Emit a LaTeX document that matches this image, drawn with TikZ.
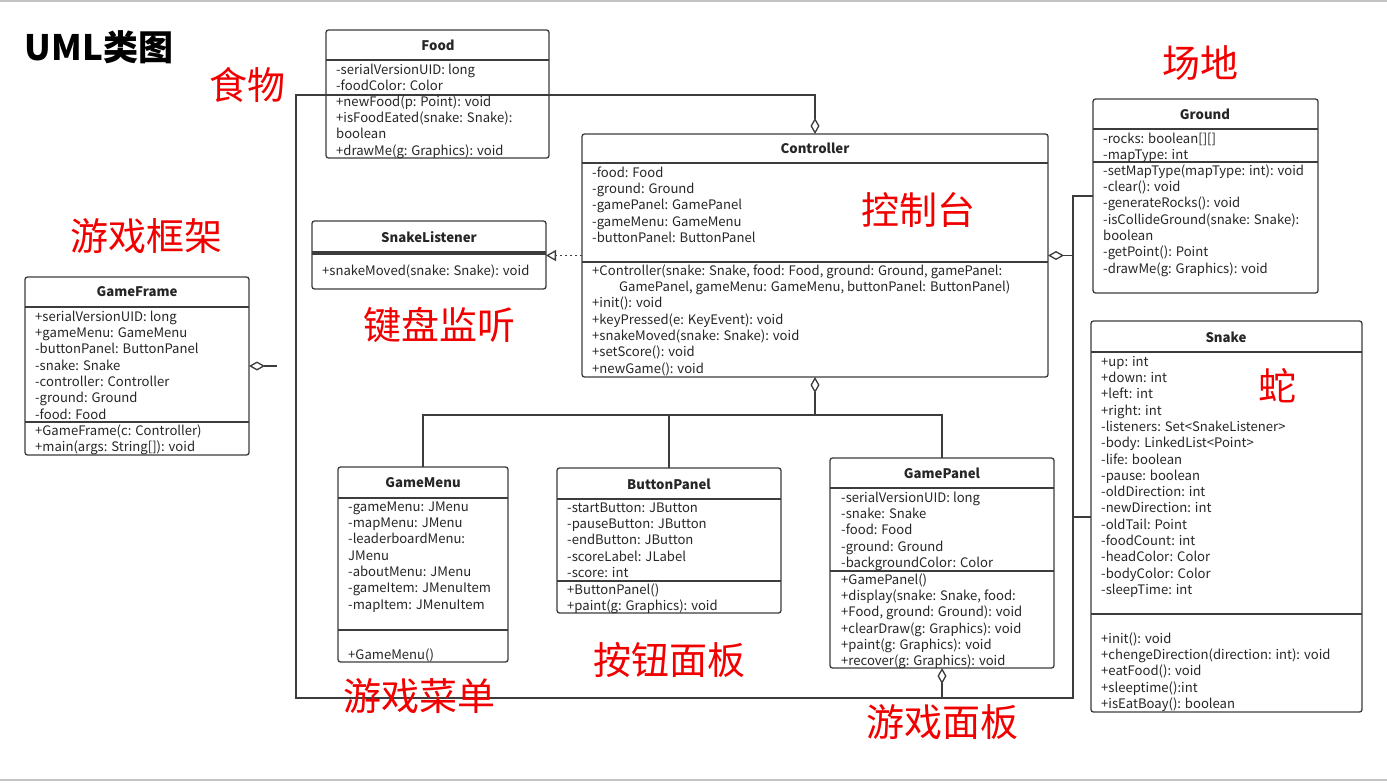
\documentclass[tikz,border=0pt]{standalone}
\usepackage{fontspec}
\setmainfont{Noto Sans CJK SC}
\usetikzlibrary{arrows.meta}
\definecolor{ln}{HTML}{3C3C3C}
\definecolor{tx}{HTML}{262626}
\definecolor{rd}{HTML}{F20000}
\definecolor{edge}{HTML}{C4C4C4}
\tikzset{
  cls/.style={draw=ln, line width=1.3pt, rounded corners=2.5pt, fill=white, anchor=north west, inner sep=0pt, outer sep=0pt},
  sepl/.style={draw=ln, line width=1.3pt},
  body/.style={anchor=north west, inner sep=0pt, align=left, text=tx, font=\fontsize{13.1}{16.3}\selectfont},
  hd/.style={inner sep=0pt, text=tx, font=\fontsize{13.2}{15}\selectfont\bfseries},
  red/.style={inner sep=0pt, text=rd, font=\fontsize{38}{40}\selectfont},
  conn/.style={draw=ln, line width=1.3pt},
  agg/.style={conn, {Diamond[fill=white, length=16pt, width=9pt]}-},
  real/.style={conn, dash pattern=on 2.5pt off 2.5pt, -{Triangle[open, length=10pt, width=11pt]}}
}
\begin{document}
\begin{tikzpicture}[x=1pt, y=-1pt]
\useasboundingbox (0,0) rectangle (1387,782);
\fill[white] (0,0) rectangle (1387,782);
\draw[edge, line width=2pt] (0,1) -- (1387,1);
\draw[edge, line width=2pt] (0,780) -- (1387,780);

% junction coordinates
\coordinate (tl) at (296,95);
\coordinate (bl) at (296,698);
\coordinate (br) at (1073,698);
\coordinate (tr) at (1073,196);
\coordinate (sj) at (1073,517);
\coordinate (hub) at (815,415);

% ---------- boxes ----------
\node[cls, minimum width=223, minimum height=128] (food) at (326,30) {};
\node[cls, minimum width=224, minimum height=178] (gframe) at (25,277) {};
\node[cls, minimum width=234, minimum height=68] (slist) at (312,221) {};
\node[cls, minimum width=466, minimum height=243] (ctrl) at (582,134) {};
\node[cls, minimum width=225, minimum height=194] (ground) at (1093,99) {};
\node[cls, minimum width=271, minimum height=391] (snake) at (1091,321) {};
\node[cls, minimum width=170, minimum height=195] (gmenu) at (338,467) {};
\node[cls, minimum width=224, minimum height=145] (bpanel) at (557,468) {};
\node[cls, minimum width=224, minimum height=210] (gpanel) at (830,458) {};

% ---------- connectors ----------
\draw[agg] (ctrl.north) -- (ctrl.north |- tl) -- (tl) -- (bl) -- (br) -- (tr) -- (tr -| ground.west);
\draw[conn] (sj) -- (sj -| snake.west);
\draw[agg] (ctrl.east) -- (ctrl.east -| br);
\draw[agg] (gpanel.south) -- (gpanel.south |- bl);
\draw[agg] (gframe.east) -- ++(28,0) coordinate (gfend);
\draw[agg] (ctrl.south) -- (hub);
\draw[conn] (gmenu.north) |- (hub) -| (gpanel.north);
\draw[conn] (bpanel.north) -- (bpanel.north |- hub);
\draw[real] (ctrl.west) -- (ctrl.west -| slist.east);

% ---------- separators ----------
\draw[sepl] (food.west |- 0,60) -- (food.east |- 0,60);
\draw[sepl] (food.west |- 0,95) -- (food.east |- 0,95);
\draw[sepl] (gframe.west |- 0,307) -- (gframe.east |- 0,307);
\draw[sepl] (gframe.west |- 0,422) -- (gframe.east |- 0,422);
\draw[sepl] (slist.west |- 0,252) -- (slist.east |- 0,252);
\draw[sepl] (slist.west |- 0,254) -- (slist.east |- 0,254);
\draw[sepl] (ctrl.west |- 0,163) -- (ctrl.east |- 0,163);
\draw[sepl] (ctrl.west |- 0,262) -- (ctrl.east |- 0,262);
\draw[sepl] (ground.west |- 0,129) -- (ground.east |- 0,129);
\draw[sepl] (ground.west |- 0,162) -- (ground.east |- 0,162);
\draw[sepl] (snake.west |- 0,352) -- (snake.east |- 0,352);
\draw[sepl] (snake.west |- 0,614) -- (snake.east |- 0,614);
\draw[sepl] (gmenu.west |- 0,498) -- (gmenu.east |- 0,498);
\draw[sepl] (gmenu.west |- 0,630) -- (gmenu.east |- 0,630);
\draw[sepl] (bpanel.west |- 0,499) -- (bpanel.east |- 0,499);
\draw[sepl] (bpanel.west |- 0,581) -- (bpanel.east |- 0,581);
\draw[sepl] (gpanel.west |- 0,488) -- (gpanel.east |- 0,488);
\draw[sepl] (gpanel.west |- 0,571) -- (gpanel.east |- 0,571);

% ---------- titles ----------
\node[hd] (foodT) at (438,45) {Food};
\node[hd] (gframeT) at (137,292) {GameFrame};
\node[hd] (slistT) at (429,237) {SnakeListener};
\node[hd] (ctrlT) at (815,148) {Controller};
\node[hd] (groundT) at (1205,114) {Ground};
\node[hd] (snakeT) at (1226,337) {Snake};
\node[hd] (gmenuT) at (423,483) {GameMenu};
\node[hd] (bpanelT) at (669,484) {ButtonPanel};
\node[hd] (gpanelT) at (942,473) {GamePanel};

% ---------- bodies ----------
\node[body] (foodA) at (336,62.6) {\strut-serialVersionUID: long\\-foodColor: Color};
\node[body] (foodM) at (336,94.6) {\strut+newFood(p: Point): void\\+isFoodEated(snake: Snake):\\boolean\\+drawMe(g: Graphics): void};

\node[body] (gframeA) at (35,309.6) {\strut+serialVersionUID: long\\+gameMenu: GameMenu\\-buttonPanel: ButtonPanel\\-snake: Snake\\-controller: Controller\\-ground: Ground\\-food: Food};
\node[body] (gframeM) at (35,423.6) {\strut+GameFrame(c: Controller)\\+main(args: String[]): void};

\node[body] (slistM) at (322,263.6) {\strut+snakeMoved(snake: Snake): void};

\node[body] (ctrlA) at (592,165.6) {\strut-food: Food\\-ground: Ground\\-gamePanel: GamePanel\\-gameMenu: GameMenu\\-buttonPanel: ButtonPanel};
\node[body] (ctrlM) at (592,263.6) {\strut+Controller(snake: Snake, food: Food, ground: Ground, gamePanel:\\\hspace*{27pt}GamePanel, gameMenu: GameMenu, buttonPanel: ButtonPanel)\\+init(): void\\+keyPressed(e: KeyEvent): void\\+snakeMoved(snake: Snake): void\\+setScore(): void\\+newGame(): void};

\node[body] (groundA) at (1103,131.6) {\strut-rocks: boolean[][]\\-mapType: int};
\node[body] (groundM) at (1103,163.6) {\strut-setMapType(mapType: int): void\\-clear(): void\\-generateRocks(): void\\-isCollideGround(snake: Snake):\\boolean\\-getPoint(): Point\\-drawMe(g: Graphics): void};

\node[body] (snakeA) at (1101,354.6) {\strut+up: int\\+down: int\\+left: int\\+right: int\\-listeners: Set<SnakeListener>\\-body: LinkedList<Point>\\-life: boolean\\-pause: boolean\\-oldDirection: int\\-newDirection: int\\-oldTail: Point\\-foodCount: int\\-headColor: Color\\-bodyColor: Color\\-sleepTime: int};
\node[body] (snakeM) at (1101,631.6) {\strut+init(): void\\+chengeDirection(direction: int): void\\+eatFood(): void\\+sleeptime():int\\+isEatBoay(): boolean};

\node[body] (gmenuA) at (348,499.6) {\strut-gameMenu: JMenu\\-mapMenu: JMenu\\-leaderboardMenu:\\JMenu\\-aboutMenu: JMenu\\-gameItem: JMenuItem\\-mapItem: JMenuItem};
\node[body] (gmenuM) at (348,647.6) {\strut+GameMenu()};

\node[body] (bpanelA) at (567,500.6) {\strut-startButton: JButton\\-pauseButton: JButton\\-endButton: JButton\\-scoreLabel: JLabel\\-score: int};
\node[body] (bpanelM) at (567,582.6) {\strut+ButtonPanel()\\+paint(g: Graphics): void};

\node[body] (gpanelA) at (841,490.6) {\strut-serialVersionUID: long\\-snake: Snake\\-food: Food\\-ground: Ground\\-backgroundColor: Color};
\node[body] (gpanelM) at (841,572.6) {\strut+GamePanel()\\+display(snake: Snake, food:\\+Food, ground: Ground): void\\+clearDraw(g: Graphics): void\\+paint(g: Graphics): void\\+recover(g: Graphics): void};

% ---------- labels ----------
\node[inner sep=0pt, text=black, font=\fontsize{35}{38}\selectfont\bfseries] (title) at (99,47) {UML类图};
\node[red] (lfood) at (247,85) {食物};
\node[red] (lframe) at (146,236) {游戏框架};
\node[red] (lctrl) at (918,210) {控制台};
\node[red] (lkey) at (439,325) {键盘监听};
\node[red] (lground) at (1200,63) {场地};
\node[red] (lsnake) at (1277,386) {蛇};
\node[red] (lmenu) at (419,696) {游戏菜单};
\node[red] (lbtn) at (669,660) {按钮面板};
\node[red] (lpanel) at (942,722) {游戏面板};
\end{tikzpicture}
\end{document}
